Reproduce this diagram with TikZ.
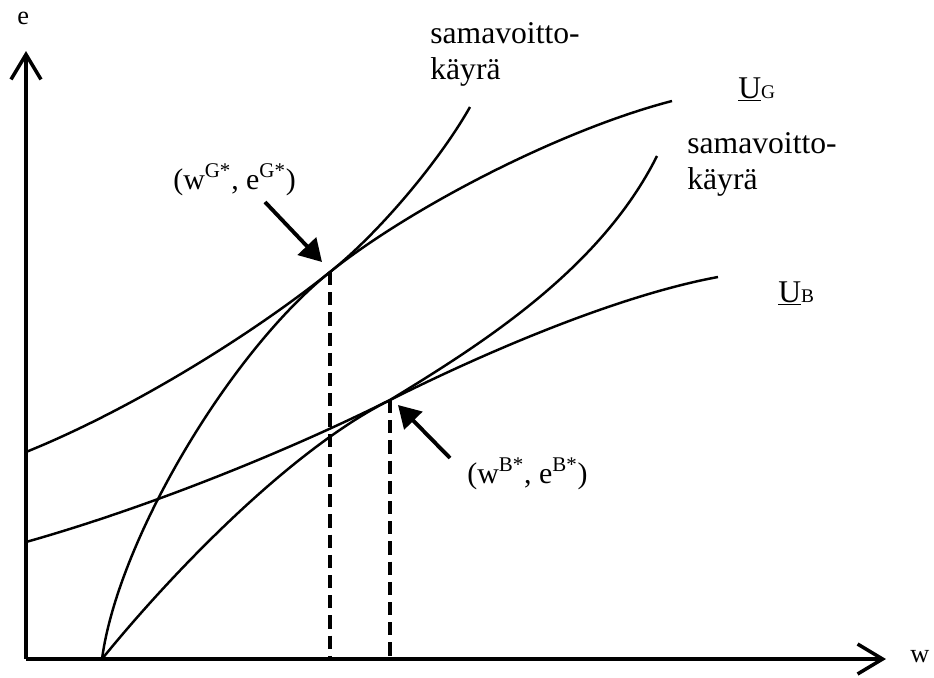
\documentclass[tikz,border=0pt]{standalone}
\usepackage{fontspec}
\setmainfont{Liberation Serif}
\usetikzlibrary{arrows.meta,positioning}

\begin{document}
\begin{tikzpicture}[x=0.02cm,y=-0.02cm,
   axis/.style={line width=2pt,-{Straight Barb[length=0.5cm,width=0.6cm]}},
   curve/.style={line width=1.4pt},
   guide/.style={line width=1.8pt,dash pattern=on 7.5pt off 4pt},
   pointer/.style={line width=2.2pt,-{Triangle[length=0.44cm,width=0.5cm]}},
   lab/.style={font=\fontsize{17}{20.4}\selectfont,inner sep=0pt,anchor=base west,align=left},
   curvelab/.style={lab,font=\fontsize{18}{20.4}\selectfont},
   axlab/.style={font=\fontsize{15}{18}\selectfont,inner sep=0pt,anchor=base west}]
  \useasboundingbox (0,0) rectangle (934,677);
  % axes
  \coordinate (O) at (26,659);
  \coordinate (ytip) at (26,51);
  \coordinate (xtip) at (886,659);
  \draw[axis] (O) -- (ytip);
  \draw[axis] (O) -- (xtip);
  \node[axlab] (elab) at (17,24) {e};
  \node[axlab] (wlab) at (910,662) {w};
  % optima
  \coordinate (tG) at (330,272);
  \coordinate (tB) at (390,400);
  % utility curves
  \draw[curve] (26,452) .. controls (130,410) and (250,336) .. (tG)
               .. controls (410,208) and (560,130) .. (672,101);
  \draw[curve] (26,542) .. controls (150,507) and (290,450) .. (tB)
               .. controls (490,350) and (620,295) .. (718,277);
  % isoprofit curves
  \draw[curve] (102,659) .. controls (118,540) and (230,352) .. (tG)
               .. controls (380,232) and (440,160) .. (470,107);
  \draw[curve] (102,659) .. controls (170,575) and (290,450) .. (tB)
               .. controls (480,345) and (600,270) .. (657,156);
  \draw[guide] (tG) -- (tG |- O);
  \draw[guide] (tB) -- (tB |- O);
  \node[lab] (labG) at (173,189) {(w\textsuperscript{G*}, e\textsuperscript{G*})};
  \node[lab] (labB) at (467,483) {(w\textsuperscript{B*}, e\textsuperscript{B*})};
  \coordinate (qG) at (265,202);
  \coordinate (pG) at (322,262);
  \coordinate (qB) at (450,458);
  \coordinate (pB) at (398,405);
  \draw[pointer] (qG) -- (pG);
  \draw[pointer] (qB) -- (pB);
  % curve labels
  \node[curvelab] (isoG) at (430,79) {samavoitto-\\käyrä};
  \node[curvelab] (isoB) at (687,189) {samavoitto-\\käyrä};
  \node[curvelab] (uG) at (738,98) {\underline{U}{\fontsize{11}{11}\selectfont G}};
  \node[curvelab] (uB) at (778,302) {\underline{U}{\fontsize{11}{11}\selectfont B}};
\end{tikzpicture}
\end{document}
